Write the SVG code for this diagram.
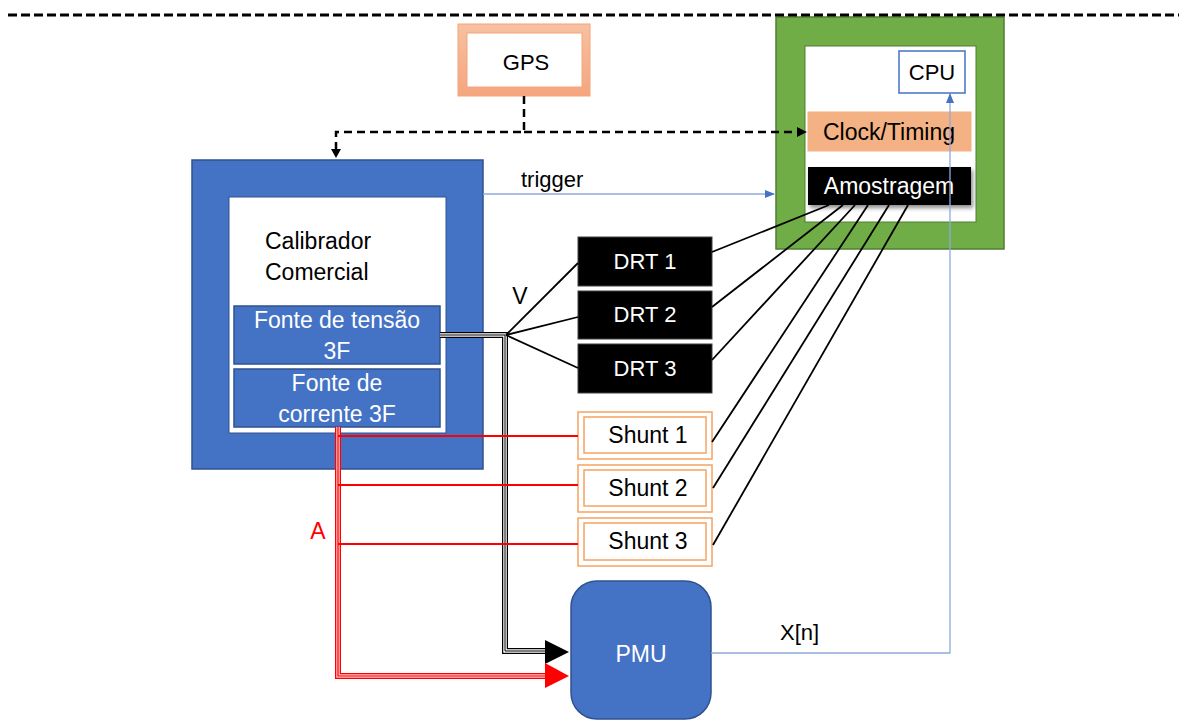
<svg xmlns="http://www.w3.org/2000/svg" width="1179" height="720" viewBox="0 0 1179 720">
<style>
text{font-family:"Liberation Sans",Arial,sans-serif;font-size:23px;}
.w{fill:#ffffff;}
.k{fill:#000000;}
.c{text-anchor:middle;}
.blue{fill:#4472C4;stroke:#2F528F;stroke-width:1.5;}
.drt{fill:#000000;stroke:#404040;stroke-width:1;}
.shO{fill:#ffffff;stroke:#F4A360;stroke-width:1.5;}
.shI{fill:#ffffff;stroke:#F4A360;stroke-width:1.5;}
.bl{stroke:#000;stroke-width:1.8;fill:none;}
.red{stroke:#FF0000;stroke-width:2;fill:none;}
.thin{stroke:#8FAADC;stroke-width:1.3;fill:none;}
.dash{stroke:#000;stroke-width:2.5;stroke-dasharray:8 5;fill:none;}
</style>
<defs>
<marker id="ab" markerWidth="10" markerHeight="10" refX="9" refY="5" orient="auto" markerUnits="userSpaceOnUse">
<path d="M0,1 L10,5 L0,9 Z" fill="#4472C4"/>
</marker>
<linearGradient id="og" x1="0" y1="0" x2="0" y2="1">
<stop offset="0" stop-color="#F7C1A0"/>
<stop offset="1" stop-color="#F4A57E"/>
</linearGradient>
<filter id="sh" x="-10%" y="-20%" width="130%" height="160%">
<feDropShadow dx="2" dy="3" stdDeviation="2" flood-color="#000" flood-opacity="0.45"/>
</filter>
</defs>
<rect width="1179" height="720" fill="#ffffff"/>

<g id="gps">
<rect x="458" y="24" width="132" height="72" fill="url(#og)" stroke="#F4A57A" stroke-width="1"/>
<rect x="467" y="33" width="115" height="54" fill="#ffffff" stroke="#F4A57A" stroke-width="1"/>
<text class="c k" x="526" y="70" style="font-size:22px">GPS</text>
</g>

<g id="unidade">
<rect x="776" y="17" width="228" height="232" fill="#70AD47" stroke="#507E32" stroke-width="1.5"/>
<rect x="805" y="46" width="171" height="176" fill="#ffffff" stroke="#507E32" stroke-width="1"/>
</g>
<g id="cpu">
<rect x="899" y="51" width="66" height="42" fill="#ffffff" stroke="#4472C4" stroke-width="1.5"/>
<text class="c k" x="932" y="80" style="font-size:22px">CPU</text>
</g>
<g id="clock">
<rect x="808" y="112" width="163" height="39" fill="#F4B183" stroke="#F4B183"/>
<text class="c k" x="889" y="140" style="font-size:23px">Clock/Timing</text>
</g>
<g id="amostragem">
<rect x="808" y="167" width="163" height="38" fill="#000" filter="url(#sh)"/>
<text class="c w" x="889" y="194" style="font-size:23px">Amostragem</text>
</g>

<g id="calibrador">
<rect x="192" y="160" width="291" height="309" class="blue"/>
<rect x="229" y="197" width="217" height="236" fill="#ffffff" stroke="#2F528F" stroke-width="1"/>
<text class="k" x="265" y="249">Calibrador</text>
<text class="k" x="265" y="280">Comercial</text>
</g>
<g id="fonte-tensao">
<rect x="234" y="306" width="206" height="58" class="blue"/>
<text class="c w" x="337" y="328">Fonte de tensão</text>
<text class="c w" x="337" y="359">3F</text>
</g>
<g id="fonte-corrente">
<rect x="234" y="369" width="206" height="58" class="blue"/>
<text class="c w" x="337" y="391">Fonte de</text>
<text class="c w" x="337" y="422">corrente 3F</text>
</g>

<g id="drt1"><rect x="578" y="237" width="134" height="49" class="drt"/><text class="c w" x="645" y="269" style="font-size:22px">DRT 1</text></g>
<g id="drt2"><rect x="578" y="291" width="134" height="48" class="drt"/><text class="c w" x="645" y="322" style="font-size:22px">DRT 2</text></g>
<g id="drt3"><rect x="578" y="344" width="134" height="49" class="drt"/><text class="c w" x="645" y="376" style="font-size:22px">DRT 3</text></g>

<g id="shunt1"><rect x="578" y="412" width="134" height="47" class="shO"/><rect x="584" y="417" width="122" height="36" class="shI"/><text class="c k" x="648" y="443">Shunt 1</text></g>
<g id="shunt2"><rect x="578" y="465" width="134" height="47" class="shO"/><rect x="584" y="470" width="122" height="36" class="shI"/><text class="c k" x="648" y="496">Shunt 2</text></g>
<g id="shunt3"><rect x="578" y="518" width="134" height="48" class="shO"/><rect x="584" y="523" width="122" height="37" class="shI"/><text class="c k" x="648" y="549">Shunt 3</text></g>

<g id="pmu">
<rect x="571" y="581" width="140" height="138" rx="26" ry="26" class="blue"/>
<text class="c w" x="641" y="662">PMU</text>
</g>

<g id="connectors">
<line x1="8" y1="15" x2="1179" y2="15" stroke="#000" stroke-width="3" stroke-dasharray="9 4"/>
<path class="dash" d="M524,96 V132 H336 V150"/>
<path d="M331,149 L341,149 L336,158 Z" fill="#000"/>
<path class="dash" d="M524,132 H798"/>
<path d="M797,127 L807,132 L797,137 Z" fill="#000"/>

<line class="thin" x1="483" y1="194" x2="774" y2="194" marker-end="url(#ab)"/>
<text class="k" x="521" y="187" style="font-size:22px">trigger</text>

<path class="thin" d="M711,653 H950 V94" marker-end="url(#ab)"/>
<text class="k" x="780" y="640" style="font-size:22px">X[n]</text>

<path d="M440,335 H505 V651 H547" stroke="#000" stroke-width="6" fill="none"/>
<path d="M440,335 H505 V651 H547" stroke="#fff" stroke-width="3.5" fill="none"/>
<path d="M440,335 H505 V651 H547" stroke="#000" stroke-width="1" fill="none"/>
<path d="M545,640 L569,652 L545,664 Z" fill="#000"/>

<line class="bl" x1="506" y1="335" x2="578" y2="263"/>
<line class="bl" x1="506" y1="335" x2="578" y2="317"/>
<line class="bl" x1="506" y1="335" x2="578" y2="368"/>
<text class="c k" x="520" y="304">V</text>

<path d="M338,427 V676 H547" stroke="#FF0000" stroke-width="6" fill="none"/>
<path d="M338,427 V676 H547" stroke="#FFC8C8" stroke-width="3.5" fill="none"/>
<path d="M338,427 V676 H547" stroke="#FF0000" stroke-width="1.2" fill="none"/>
<path d="M545,663 L569,676 L545,688 Z" fill="#FF0000"/>
<line class="red" x1="338" y1="436" x2="578" y2="436"/>
<line class="red" x1="338" y1="485" x2="578" y2="485"/>
<line class="red" x1="338" y1="544" x2="578" y2="544"/>
<text class="c" x="318" y="539" fill="#FF0000">A</text>

<line class="bl" x1="712" y1="252" x2="829" y2="205"/>
<line class="bl" x1="712" y1="307" x2="843" y2="205"/>
<line class="bl" x1="712" y1="360" x2="855" y2="205"/>
<line class="bl" x1="712" y1="442" x2="868" y2="205"/>
<line class="bl" x1="713" y1="488" x2="889" y2="205"/>
<line class="bl" x1="713" y1="545" x2="908" y2="205"/>
</g>
</svg>
